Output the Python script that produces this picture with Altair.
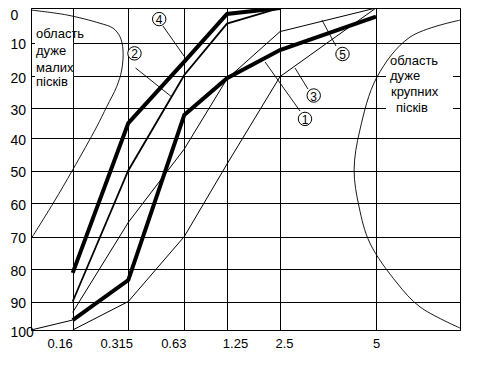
import altair as alt
import pandas as pd

# ---- data ----
sizes = [0.16, 0.315, 0.63, 1.25, 2.5, 5]          # sieve sizes, mm
size_labels = ["0.16", "0.315", "0.63", "1.25", "2.5", "5"]
line1 = [96.5, 83.4, 32.3, 20.7, 12.2, 2.5]        # thick  (1)
line2 = [90.0, 50.0, 19.7, 4.5, 0.0]               # medium (2)
line3 = [100.0, 90.0, 70.0, 48.0, 20.2, 0.0]       # thin   (3)
line4 = [81.2, 35.0, 15.7, 1.7, 0.0]               # thick  (4)
line5 = [93.8, 65.8, 43.3, 20.9, 6.8, 0.0]         # thin   (5)
pan_x = [0.08, 0.16]
pan_y = [100.0, 96.5]

# boundary of "very fine sands" region
fine_x = [0.08, 0.1485, 0.2361, 0.2723, 0.2919, 0.3002, 0.2966, 0.2827, 0.2548, 0.2269, 0.16, 0.1228, 0.081]
fine_y = [0.6, 2.0, 4.4, 5.8, 8.3, 12.2, 18.2, 23.3, 29.6, 36.2, 49.8, 60.0, 70.5]
# boundary of "very coarse sands" region
coarse_x = [10.0, 7.02, 5.06, 4.58, 4.43, 4.56, 4.84, 6.25, 7.62, 10.0]
coarse_y = [3.5, 8.4, 20.3, 37.3, 49.8, 61.2, 72.0, 84.3, 91.9, 99.3]

# curve labels
mark_txt = ["1", "2", "3", "4", "5"]
mark_x = [3.151, 0.3498, 3.378, 0.4888, 4.128]
mark_y = [33.6, 13.2, 26.1, 3.2, 13.4]
lead_x1 = [2.148, 0.356, 2.891, 0.5102, 3.594]
lead_y1 = [15.8, 17.6, 17.6, 5.2, 3.5]
lead_x2 = [3.021, 0.5608, 3.229, 0.6283, 3.958]
lead_y2 = [31.0, 26.6, 24.1, 14.0, 11.0]

# region captions
cap_txt = ["область", "дуже", "малих", "пісків", "область", "дуже", "крупних", "пісків"]
cap_x = [0.0896, 0.0896, 0.0896, 0.0896, 5.833, 5.833, 5.893, 6.19]
cap_y = [8.7, 13.7, 18.7, 23.1, 16.7, 21.25, 26.25, 31.3]
# white boxes behind captions
box_x1 = [0.0877, 5.595]
box_x2 = [0.1612, 9.58]
box_y1 = [9.8, 18.8]
box_y2 = [20.3, 31.6]

x_domain = [0.08, 0.16, 0.315, 0.63, 1.25, 2.5, 5, 10]
x_range = [0, 41.7, 97.3, 153.3, 196, 249, 345, 429]
y_domain = [0, 10, 20, 30, 40, 50, 60, 70, 80, 90, 100]
y_range = [0, 34.7, 68, 100, 130.3, 162.5, 195, 228.5, 261, 293.5, 322]

FONT = "Liberation Sans"

xs = alt.Scale(domain=x_domain, range=x_range, nice=False, zero=False)
ys = alt.Scale(domain=y_domain, range=y_range, nice=False, zero=False)


def long(xv, yv, name):
    return [{"size": a, "pct": b, "series": name, "i": k} for k, (a, b) in enumerate(zip(xv, yv))]


thick_df = pd.DataFrame(long(sizes, line1, "1") + long(sizes, line4, "4"))
med_df = pd.DataFrame(long(sizes, line2, "2"))
thin_df = pd.DataFrame(long(sizes, line3, "3") + long(sizes, line5, "5") + long(pan_x, pan_y, "p"))
region_df = pd.DataFrame(long(fine_x, fine_y, "fine") + long(coarse_x, coarse_y, "coarse"))
marks_df = pd.DataFrame({"t": mark_txt, "size": mark_x, "pct": mark_y})
lead_df = pd.DataFrame({"size": lead_x1, "pct": lead_y1, "x2": lead_x2, "y2": lead_y2})
cap_df = pd.DataFrame({"t": cap_txt, "size": cap_x, "pct": cap_y})
box_df = pd.DataFrame({"size": box_x1, "x2": box_x2, "pct": box_y1, "y2": box_y2})

label_lookup = " : ".join(
    f"datum.value == {v} ? '{t}'" for v, t in zip(sizes, size_labels)
) + " : ''"

x_axis = alt.Axis(
    values=sizes, labelExpr=label_lookup, grid=True, gridColor="black", gridOpacity=1, gridWidth=1,
    ticks=False, tickSize=0, domain=False, labelPadding=7, labelFontSize=13, labelFont=FONT,
    labelColor="black", labelOverlap=False, labelFlush=False, title=None,
    labelOffset={"condition": [{"test": "datum.value < 0.3", "value": -13},
                               {"test": "datum.value < 0.5", "value": -12},
                               {"test": "datum.value < 1", "value": -11},
                               {"test": "datum.value < 2", "value": 8},
                               {"test": "datum.value < 3", "value": 4}], "value": 0},
)
y_axis = alt.Axis(
    values=y_domain, grid=True, gridColor="black", gridOpacity=1, gridWidth=1,
    ticks=False, tickSize=0, domain=False, labelAlign="left", labelBaseline="middle",
    labelPadding=21, labelFontSize=14, labelFont=FONT, labelColor="black",
    labelOverlap=False, labelFlush=False, title=None,
    labelOffset={"condition": {"test": "datum.value == 0", "value": 7}, "value": 2},
)

X = alt.X("size:Q", scale=xs, axis=x_axis)
Y = alt.Y("pct:Q", scale=ys, axis=y_axis)

base_thin = alt.Chart(thin_df).mark_line(color="black", strokeWidth=1).encode(
    x=X, y=Y, detail="series:N", order="i:Q")

boxes = alt.Chart(box_df).mark_rect(fill="white").encode(
    x=X, x2="x2:Q", y=Y, y2="y2:Q")

regions = alt.Chart(region_df).mark_line(color="black", strokeWidth=0.9, interpolate="catmull-rom").encode(
    x=X, y=Y, detail="series:N", order="i:Q")

medium = alt.Chart(med_df).mark_line(color="black", strokeWidth=1.8).encode(
    x=X, y=Y, detail="series:N", order="i:Q")

thick = alt.Chart(thick_df).mark_line(color="black", strokeWidth=4).encode(
    x=X, y=Y, detail="series:N", order="i:Q")

leaders = alt.Chart(lead_df).mark_rule(color="black", strokeWidth=0.9).encode(
    x=X, x2="x2:Q", y=Y, y2="y2:Q")

circles = alt.Chart(marks_df).mark_point(shape="circle", filled=True, fill="white", stroke="black",
                                         strokeWidth=1, size=180, opacity=1).encode(x=X, y=Y)

digits = alt.Chart(marks_df).mark_text(font=FONT, fontSize=12, color="black", baseline="middle",
                                       align="center", dy=1).encode(x=X, y=Y, text="t:N")

captions = alt.Chart(cap_df).mark_text(font=FONT, fontSize=13, color="black", align="left",
                                       baseline="alphabetic").encode(x=X, y=Y, text="t:N")

chart = alt.layer(
    base_thin, boxes, regions, medium, thick, leaders, circles, digits, captions
).properties(
    width=429, height=322,
    padding={"left": 23, "top": 0, "right": 15, "bottom": 30},
    autosize=alt.AutoSizeParams(type="none"),
    background="white",
).configure(font=FONT).configure_view(stroke="black", strokeWidth=1)

chart.save("out.html", embed_options={"renderer": "svg", "actions": False})
